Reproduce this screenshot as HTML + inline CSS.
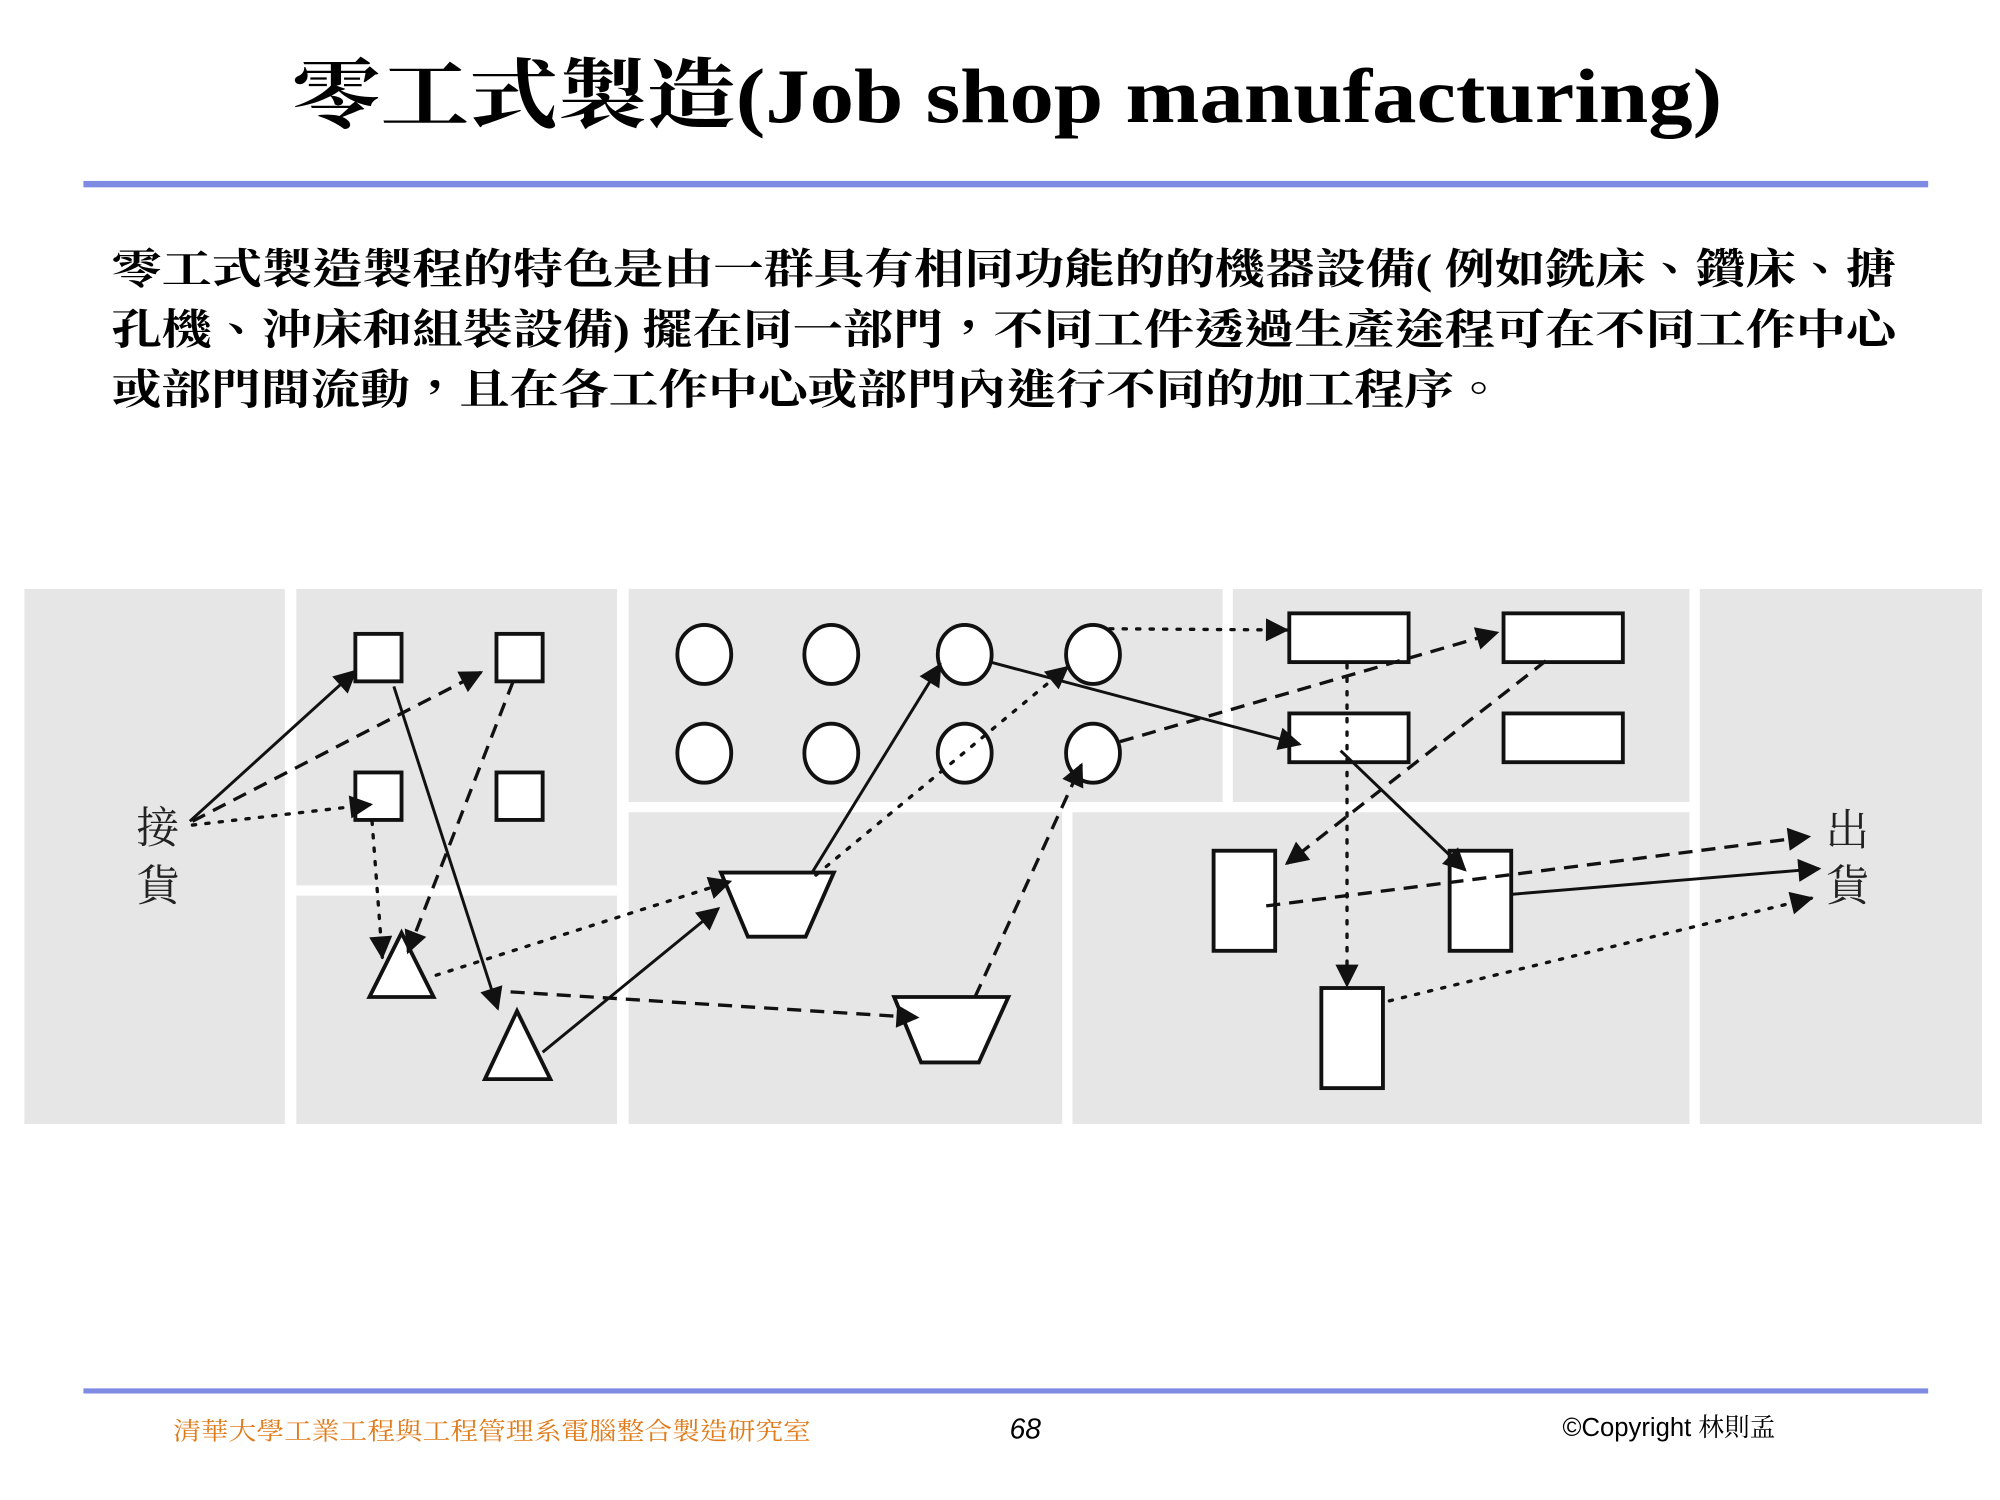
<!DOCTYPE html>
<html><head><meta charset="utf-8"><style>
html,body{margin:0;padding:0;background:#fff;}
svg{display:block;}
</style></head><body>
<svg width="2000" height="1500" viewBox="0 0 1559 1169" preserveAspectRatio="none" xmlns="http://www.w3.org/2000/svg">
<defs>
<marker id="ah" viewBox="0 0 10 10" refX="9" refY="5" markerWidth="9" markerHeight="9" markerUnits="userSpaceOnUse" orient="auto"><path d="M0,0 L10,5 L0,10 z" fill="#111"/></marker>
<marker id="ah2" viewBox="0 0 10 10" refX="9" refY="5" markerWidth="22" markerHeight="18" markerUnits="userSpaceOnUse" orient="auto"><path d="M0,0 L10,5 L0,10 z" fill="#111"/></marker>
</defs>
<text x="785" y="95" text-anchor="middle" font-family="Liberation Serif,'Noto Serif CJK SC',serif" font-weight="bold" font-size="60" fill="#000" textLength="1115" lengthAdjust="spacingAndGlyphs">零工式製造(Job shop manufacturing)</text>
<rect x="65" y="141" width="1438" height="5" fill="#7f8be3"/>
<g font-family="'Liberation Serif','Noto Serif CJK TC','Noto Serif CJK SC',serif" font-weight="bold" font-size="33" fill="#000">
<text x="87" y="221" textLength="1391" lengthAdjust="spacingAndGlyphs">零工式製造製程的特色是由一群具有相同功能的的機器設備( 例如銑床、鑽床、搪</text>
<text x="87" y="268" textLength="1391" lengthAdjust="spacingAndGlyphs">孔機、沖床和組裝設備) 擺在同一部門，不同工件透過生產途程可在不同工作中心</text>
<text x="87" y="315" textLength="1085" lengthAdjust="spacingAndGlyphs">或部門間流動，且在各工作中心或部門內進行不同的加工程序。</text>
</g>
<g fill="#e6e6e6">
<rect x="19" y="459" width="203" height="417"/>
<rect x="231" y="459" width="250" height="231"/>
<rect x="231" y="698" width="250" height="178"/>
<rect x="490" y="459" width="463" height="166"/>
<rect x="490" y="633" width="338" height="243"/>
<rect x="961" y="459" width="356" height="166"/>
<rect x="836" y="633" width="481" height="243"/>
<rect x="1325" y="459" width="220" height="417"/>
</g>
<g fill="#fff" stroke="#111" stroke-width="3">
<rect x="277" y="494" width="36" height="37"/><rect x="387" y="494" width="36" height="37"/>
<rect x="277" y="602" width="36" height="37"/><rect x="387" y="602" width="36" height="37"/>
<ellipse cx="549" cy="510" rx="21" ry="23"/><ellipse cx="648" cy="510" rx="21" ry="23"/>
<ellipse cx="752" cy="510" rx="21" ry="23"/><ellipse cx="852" cy="510" rx="21" ry="23"/>
<ellipse cx="549" cy="587" rx="21" ry="23"/><ellipse cx="648" cy="587" rx="21" ry="23"/>
<ellipse cx="752" cy="587" rx="21" ry="23"/><ellipse cx="852" cy="587" rx="21" ry="23"/>
<polygon points="313,727 338,777 288,777"/><polygon points="403,788 429,841 378,841"/>
<polygon points="562,680 650,680 628,730 583,730"/><polygon points="697,777 786,777 763,828 718,828"/>
<rect x="1005" y="478" width="93" height="38"/><rect x="1172" y="478" width="93" height="38"/>
<rect x="1005" y="556" width="93" height="38"/><rect x="1172" y="556" width="93" height="38"/>
<rect x="946" y="663" width="48" height="78"/><rect x="1130" y="663" width="48" height="78"/>
<rect x="1030" y="770" width="48" height="78"/>
</g>
<g font-family="'Liberation Serif','Noto Serif CJK TC',serif" font-size="34" fill="#222">
<text x="106" y="657">接</text><text x="106" y="702">貨</text>
<text x="1423" y="659">出</text><text x="1423" y="702">貨</text>
</g>
<g stroke="#111" stroke-width="2.3" fill="none" marker-end="url(#ah2)">
<line x1="148" y1="640" x2="277" y2="523"/>
<line x1="307" y1="535" x2="388" y2="786"/>
<line x1="423" y1="820" x2="560" y2="708"/>
<line x1="633" y1="680" x2="733" y2="518"/>
<line x1="772" y1="516" x2="1013" y2="580"/>
<line x1="1045" y1="585" x2="1142" y2="678"/>
<line x1="1178" y1="697" x2="1418" y2="677"/>
</g>
<g stroke="#111" stroke-width="2.6" fill="none" stroke-dasharray="11,7" marker-end="url(#ah2)">
<line x1="150" y1="640" x2="375" y2="524"/>
<line x1="400" y1="531" x2="318" y2="742"/>
<line x1="398" y1="773" x2="715" y2="793"/>
<line x1="760" y1="777" x2="843" y2="596"/>
<line x1="873" y1="578" x2="1167" y2="493"/>
<line x1="1205" y1="515" x2="1003" y2="673"/>
<line x1="987" y1="706" x2="1410" y2="652"/>
</g>
<g stroke="#111" stroke-width="2.6" fill="none" stroke-dasharray="2.5,8" stroke-linecap="round" marker-end="url(#ah2)">
<line x1="150" y1="643" x2="289" y2="627"/>
<line x1="290" y1="640" x2="298" y2="746"/>
<line x1="340" y1="760" x2="569" y2="687"/>
<line x1="636" y1="682" x2="832" y2="520"/>
<line x1="865" y1="490" x2="1003" y2="491"/>
<line x1="1050" y1="518" x2="1050" y2="768"/>
<line x1="1083" y1="780" x2="1412" y2="700"/>
</g>
<rect x="65" y="1082" width="1438" height="4" fill="#7f8be3"/>
<text x="135" y="1122" font-family="'Liberation Serif','Noto Serif CJK TC',serif" font-size="19" fill="#e07b1a" textLength="497" lengthAdjust="spacingAndGlyphs">清華大學工業工程與工程管理系電腦整合製造研究室</text>
<text x="787" y="1121" font-family="'Liberation Sans',sans-serif" font-style="italic" font-size="22" fill="#000">68</text>
<text x="1218" y="1119" font-family="'Liberation Sans','Noto Sans CJK TC',sans-serif" font-size="20" fill="#000">©Copyright <tspan font-family="'Liberation Serif','Noto Serif CJK TC',serif">林則孟</tspan></text>
</svg>
</body></html>
